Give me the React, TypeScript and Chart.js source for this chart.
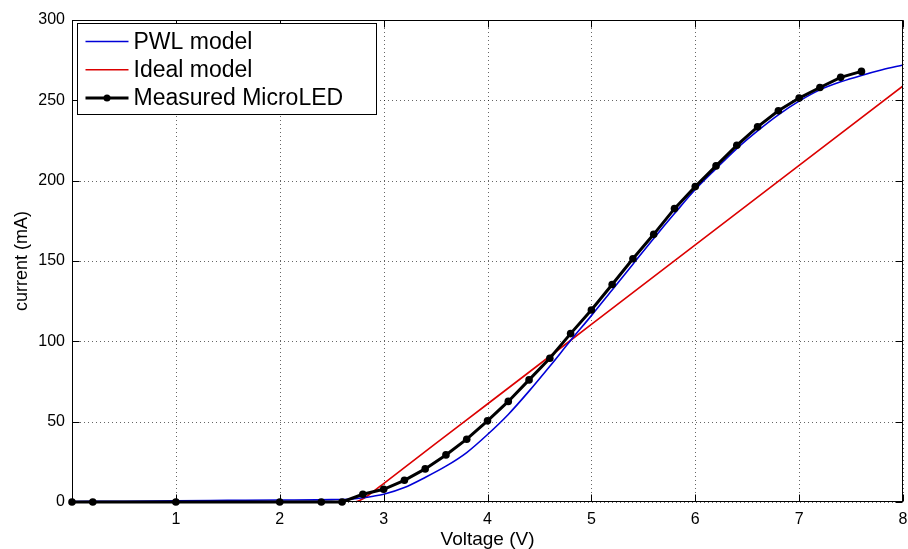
import React, { useEffect, useRef } from 'react';
import { Chart, registerables } from 'chart.js';

Chart.register(...registerables);

// ---- data ----
const measuredV = [0, 0.2, 1, 2, 2.4, 2.6, 2.8, 3.0, 3.2, 3.4, 3.6, 3.8, 4.0, 4.2, 4.4, 4.6, 4.8, 5.0, 5.2, 5.4, 5.6, 5.8, 6.0, 6.2, 6.4, 6.6, 6.8, 7.0, 7.2, 7.4, 7.6];
const measuredI = [0, 0, 0, 0, 0, 0, 4.8, 7.9, 13.5, 20.6, 29.3, 39.1, 50.5, 62.6, 76, 89.5, 104.8, 119.5, 135.4, 151.4, 166.6, 182.6, 196.3, 209.2, 222, 233.5, 243.5, 251.4, 258, 264.3, 268];

const pwlV = [0, 0.5, 1, 1.5, 2, 2.5, 2.7, 2.8, 2.9, 3.0, 3.2, 3.4, 3.6, 3.8, 4.0, 4.2, 4.4, 4.6, 4.8, 5.0, 5.2, 5.4, 5.6, 5.8, 6.0, 6.2, 6.4, 6.6, 6.8, 7.0, 7.2, 7.4, 7.6, 7.8, 8.0];
const pwlI = [0.3, 0.5, 0.8, 1.0, 1.2, 1.5, 1.9, 2.6, 3.6, 4.8, 9, 15.3, 22.3, 30.8, 42, 54.5, 69, 84.5, 100.5, 116, 132, 148, 164, 179.5, 194.5, 207.5, 220, 231, 241, 249.5, 256.5, 261.5, 265.5, 269, 272];

const idealV = [0, 1, 2, 2.6, 2.72, 2.8, 2.9, 3.0, 3.5, 4.0, 5.0, 6.0, 7.0, 8.0];
const idealI = [0, 0, 0, 0, 0, 2, 6.5, 11.5, 36.3, 61, 110.5, 160, 209.5, 259];

const xTickValues = [0, 1, 2, 3, 4, 5, 6, 7, 8];
const xTickLabels = ['', '1', '2', '3', '4', '5', '6', '7', '8'];
const yTickValues = [0, 50, 100, 150, 200, 250, 300];
const yTickLabels = ['0', '50', '100', '150', '200', '250', '300'];

const seriesNames = ['PWL model', 'Ideal model', 'Measured MicroLED'];
const seriesColors = ['rgb(0,0,215)', 'rgb(220,0,0)', '#000000'];

const xTitle = 'Voltage (V)';
const yTitle = 'current (mA)';

const FONT = '"Liberation Sans", Arial, Helvetica, sans-serif';

const framePlugin = {
  id: 'matlabFrame',
  beforeDraw(chart: any) {
    const { ctx, width, height } = chart;
    ctx.save();
    ctx.fillStyle = '#ffffff';
    ctx.fillRect(0, 0, width, height);
    ctx.restore();
  },
  beforeDatasetsDraw(chart: any) {
    const { ctx, chartArea: a, scales } = chart;
    const x = scales.x;
    const y = scales.y;
    ctx.save();
    ctx.strokeStyle = 'rgba(0,0,0,0.6)';
    ctx.lineWidth = 1;
    ctx.setLineDash([1, 3]);
    xTickValues.forEach((v) => {
      const px = Math.round(x.getPixelForValue(v)) + 0.5;
      ctx.beginPath();
      ctx.moveTo(px, a.top);
      ctx.lineTo(px, a.bottom);
      ctx.stroke();
    });
    yTickValues.forEach((v) => {
      const py = Math.round(y.getPixelForValue(v)) + 0.5;
      ctx.beginPath();
      ctx.moveTo(a.left, py);
      ctx.lineTo(a.right, py);
      ctx.stroke();
    });
    ctx.restore();
  },
  afterDraw(chart: any) {
    const { ctx, chartArea: a, scales } = chart;
    const x = scales.x;
    const y = scales.y;
    ctx.save();
    ctx.setLineDash([]);
    ctx.strokeStyle = '#000';
    ctx.lineWidth = 1;
    const L = Math.round(a.left) + 0.5;
    const R = Math.round(a.right) - 0.5;
    const T = Math.round(a.top) + 0.5;
    const B = Math.round(a.bottom) - 0.5;
    ctx.strokeRect(L, T, R - L, B - T);
    const tl = 7;
    ctx.beginPath();
    xTickValues.forEach((v) => {
      const px = Math.round(x.getPixelForValue(v)) + 0.5;
      ctx.moveTo(px, B);
      ctx.lineTo(px, B - tl);
      ctx.moveTo(px, T);
      ctx.lineTo(px, T + tl);
    });
    yTickValues.forEach((v) => {
      const py = Math.round(y.getPixelForValue(v)) + 0.5;
      ctx.moveTo(L, py);
      ctx.lineTo(L + tl, py);
      ctx.moveTo(R, py);
      ctx.lineTo(R - tl, py);
    });
    ctx.stroke();

    // legend
    const bx = Math.round(a.left) + 5.5;
    const by = Math.round(a.top) + 3.5;
    const bw = 299;
    const bh = 91;
    ctx.fillStyle = '#fff';
    ctx.fillRect(bx, by, bw, bh);
    ctx.strokeStyle = '#000';
    ctx.lineWidth = 1;
    ctx.strokeRect(bx, by, bw, bh);
    ctx.font = `23px ${FONT}`;
    ctx.textBaseline = 'middle';
    ctx.textAlign = 'left';
    seriesNames.forEach((name, i) => {
      const ry = by + 18 + i * 28.3;
      const x0 = bx + 8;
      const x1 = bx + 51;
      ctx.strokeStyle = seriesColors[i];
      ctx.lineWidth = i === 2 ? 3 : 1.5;
      ctx.beginPath();
      ctx.moveTo(x0, ry);
      ctx.lineTo(x1, ry);
      ctx.stroke();
      if (i === 2) {
        ctx.fillStyle = '#000';
        ctx.beginPath();
        ctx.arc((x0 + x1) / 2, ry, 3.5, 0, Math.PI * 2);
        ctx.fill();
      }
      ctx.fillStyle = '#000';
      ctx.fillText(name, bx + 56, ry + 1);
    });
    ctx.restore();
  },
};

export default function App() {
  const canvasRef = useRef<HTMLCanvasElement | null>(null);

  useEffect(() => {
    document.body.style.margin = '0';
    const canvas = canvasRef.current;
    if (!canvas) return;
    const toPts = (xs: number[], ys: number[]) => xs.map((v, i) => ({ x: v, y: ys[i] }));
    const chart = new Chart(canvas, {
      type: 'line',
      data: {
        datasets: [
          {
            label: seriesNames[2],
            data: toPts(measuredV, measuredI),
            borderColor: seriesColors[2],
            backgroundColor: seriesColors[2],
            borderWidth: 3,
            pointRadius: 3.8,
            pointBorderWidth: 0,
            pointBackgroundColor: '#000',
            tension: 0,
            clip: false as any,
            order: 0,
          },
          {
            label: seriesNames[0],
            data: toPts(pwlV, pwlI),
            borderColor: seriesColors[0],
            borderWidth: 1.6,
            pointRadius: 0,
            cubicInterpolationMode: 'monotone',
            order: 1,
          },
          {
            label: seriesNames[1],
            data: toPts(idealV, idealI),
            borderColor: seriesColors[1],
            borderWidth: 1.6,
            pointRadius: 0,
            cubicInterpolationMode: 'monotone',
            order: 2,
          },
        ],
      },
      options: {
        animation: false,
        responsive: false,
        maintainAspectRatio: false,
        layout: { padding: { top: 20, right: 5, left: 0, bottom: 0 } },
        plugins: {
          legend: { display: false },
          tooltip: { enabled: false },
        },
        scales: {
          x: {
            type: 'linear',
            min: 0,
            max: 8,
            afterBuildTicks: (s: any) => {
              s.ticks = xTickValues.map((v) => ({ value: v }));
            },
            afterFit: (s: any) => {
              s.height = 47;
              s.paddingLeft = 0;
              s.paddingRight = 0;
            },
            ticks: {
              autoSkip: false,
              maxRotation: 0,
              padding: 8,
              color: '#000',
              font: { size: 16, family: FONT },
              callback: (v: any) => {
                const i = xTickValues.indexOf(Number(v));
                return i >= 0 ? xTickLabels[i] : '';
              },
            },
            grid: { display: false, drawTicks: false },
            border: { display: false },
            title: {
              display: true,
              text: xTitle,
              color: '#000',
              font: { size: 19, family: FONT, lineHeight: 1 },
              padding: 0,
            },
          },
          y: {
            type: 'linear',
            min: 0,
            max: 300,
            afterBuildTicks: (s: any) => {
              s.ticks = yTickValues.map((v) => ({ value: v }));
            },
            afterFit: (s: any) => {
              s.width = 72;
              s.paddingTop = 0;
              s.paddingBottom = 0;
            },
            ticks: {
              autoSkip: false,
              padding: 7,
              color: '#000',
              font: { size: 16, family: FONT },
              callback: (v: any) => {
                const i = yTickValues.indexOf(Number(v));
                return i >= 0 ? yTickLabels[i] : '';
              },
            },
            grid: { display: false, drawTicks: false },
            border: { display: false },
            title: {
              display: true,
              text: yTitle,
              color: '#000',
              font: { size: 18, family: FONT, lineHeight: 1 },
              padding: { top: 13, bottom: 0 },
            },
          },
        },
      } as any,
      plugins: [framePlugin],
    });
    return () => chart.destroy();
  }, []);

  return (
    <div style={{ width: 908, height: 549, position: 'relative' }}>
      <canvas ref={canvasRef} width={908} height={549} style={{ width: 908, height: 549, display: 'block' }} />
    </div>
  );
}
